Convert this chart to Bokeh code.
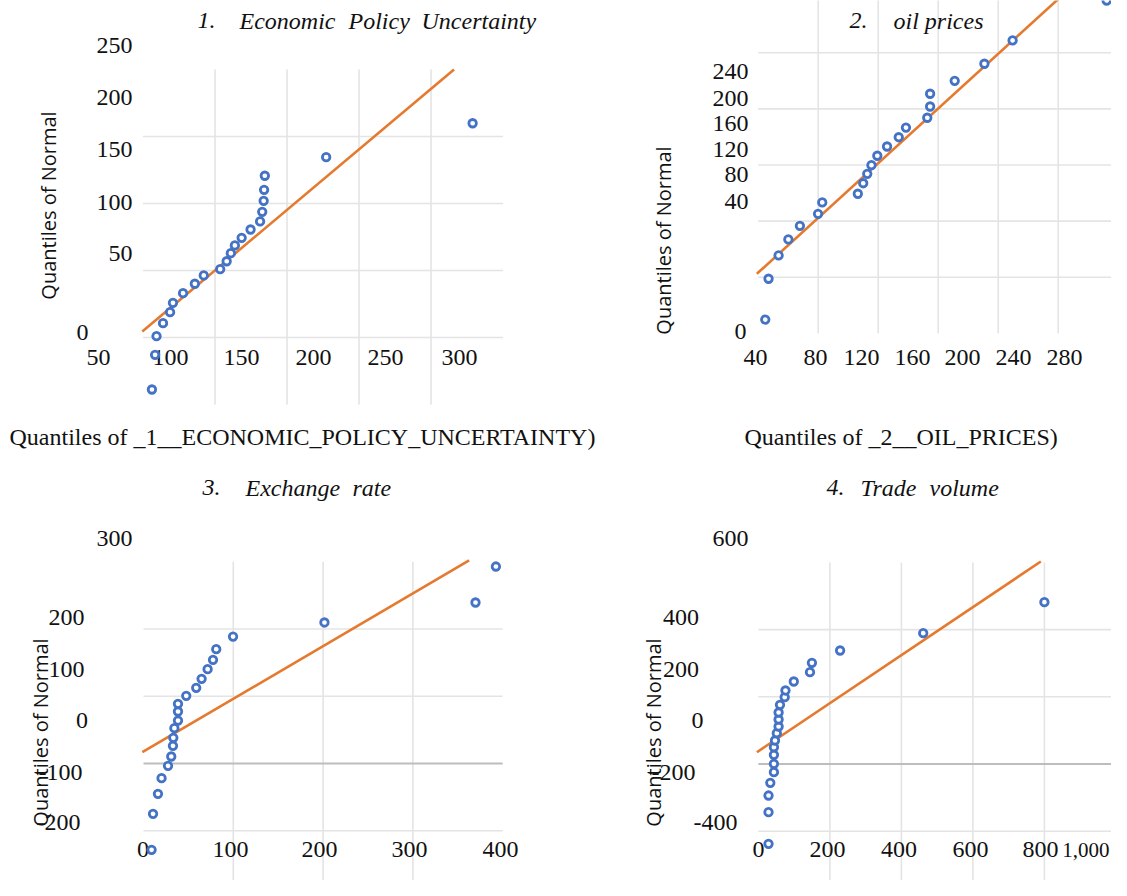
import numpy as np
from bokeh.plotting import figure
from bokeh.models import Range1d, ColumnDataSource
from bokeh.core.properties import value
from bokeh.embed import file_html
from bokeh.resources import INLINE

# ---------------- data ----------------
# 1. Economic Policy Uncertainty
EPU_X = [56.2, 58.4, 59.4, 63.9, 68.8, 70.8, 77.8, 86.0, 92.2, 103.6, 108.1, 111.0,
         113.8, 118.5, 124.7, 131.3, 132.8, 133.8, 134.1, 134.6, 177.2, 278.9]
EPU_Y = [11.2, 37.1, 51.0, 60.7, 68.9, 75.9, 83.1, 90.1, 96.3, 101.0, 106.9, 112.9,
         118.7, 124.4, 130.6, 136.6, 143.8, 152.0, 160.2, 170.7, 184.6, 209.9]
EPU_LINE_X = [49.5, 266.0]
EPU_LINE_Y = [54.5, 250.0]
EPU_XTICKS = ["50", "100", "150", "200", "250", "300"]
EPU_YTICKS = ["250", "200", "150", "100", "50", "0"]

# 2. oil prices
OIL_X = [44.7, 46.9, 53.6, 60.1, 67.8, 79.9, 82.7, 106.4, 110.0, 112.7, 115.5, 119.4,
         125.9, 133.7, 138.5, 152.7, 154.6, 154.6, 171.0, 190.8, 209.6, 272.3]
OIL_Y = [9.8, 38.9, 55.5, 66.9, 76.6, 85.2, 93.3, 99.5, 107.0, 113.7, 119.9, 126.6,
         133.2, 139.8, 146.7, 153.7, 161.7, 170.8, 180.0, 192.2, 208.8, 237.3]
OIL_LINE_X = [39.1, 260.0]
OIL_LINE_Y = [42.4, 257.8]
OIL_XTICKS = ["40", "80", "120", "160", "200", "240", "280"]
OIL_YTICKS = ["240", "200", "160", "120", "80", "40", "0"]

# 3. Exchange rate
EXR_X = [9.0, 10.6, 16.1, 20.1, 27.3, 30.9, 32.8, 33.2, 34.4, 38.4, 38.4, 38.4,
         47.6, 58.7, 64.7, 71.4, 77.4, 81.0, 99.7, 201.5, 369.7, 392.4]
EXR_Y = [-128.4, -74.8, -45.1, -21.8, -3.5, 10.4, 26.3, 38.2, 52.5, 63.9, 77.3, 88.7,
         100.6, 112.5, 125.9, 140.2, 154.2, 170.0, 188.8, 209.7, 239.4, 292.9]
EXR_LINE_X = [-1.3, 362.6]
EXR_LINE_Y = [16.8, 301.9]
EXR_XTICKS = ["0", "100", "200", "300", "400"]
EXR_YTICKS = ["300", "200", "100", "0", "-100", "-200"]

# 4. Trade volume
TRD_X = [28.3, 28.3, 28.3, 33.3, 43.4, 43.4, 43.4, 43.4, 46.4, 51.5, 56.5, 56.5,
         56.5, 60.4, 73.6, 75.7, 99.0, 144.3, 149.7, 228.5, 461.0, 800.0]
TRD_Y = [-237.5, -143.5, -93.8, -56.0, -24.4, 0.6, 27.4, 50.0, 69.9, 91.7, 111.6, 132.4,
         153.3, 176.2, 198.8, 218.8, 245.5, 273.2, 301.2, 337.8, 389.3, 481.5]
TRD_LINE_X = [-4.2, 790.0]
TRD_LINE_Y = [35.1, 602.7]
TRD_XTICKS = ["0", "200", "400", "600", "800", "1,000"]
TRD_YTICKS = ["600", "400", "200", "0", "-200", "-400"]

# ---------------- layout (picture pixels) ----------------
W, H = 1111, 880
LEFT, TOP = 0, 0
PAGE_R, PAGE_B = LEFT + W, TOP + H

BLUE = "#4472C4"
ORANGE = "#E57A2E"
GRID = "#e4e4e4"
ZERO = "#bdbdbd"
SERIF = "Liberation Serif"
SANS = "Open Sans"

p = figure(width=W, height=H, x_range=Range1d(LEFT, PAGE_R), y_range=Range1d(PAGE_B, TOP),
           x_axis_type=None, y_axis_type=None, toolbar_location=None,
           output_backend="svg", min_border=0, outline_line_color=None)
p.background_fill_color = "white"
p.border_fill_color = "white"


def xrange_for(px0, v0, scale):
    return Range1d(start=v0 + (LEFT - px0) / scale, end=v0 + (PAGE_R - px0) / scale)


def yrange_for(py0, v0, scale):
    return Range1d(start=v0 + (py0 - PAGE_B) / scale, end=v0 + (py0 - TOP) / scale)


# plot-area placement of each panel: (pixel of origin value, origin value, px per unit)
p.extra_x_ranges = {
    "epu": xrange_for(142.5, 50, 1.44),
    "oil": xrange_for(757.7, 40, 1.5),
    "exr": xrange_for(143.0, 0, 0.898),
    "trd": xrange_for(757.9, 0, 0.3575),
}
p.extra_y_ranges = {
    "epu": yrange_for(404.0, 0, 1.34),
    "oil": yrange_for(332.8, 0, 1.4025),
    "exr": yrange_for(763.0, 0, 0.6725),
    "trd": yrange_for(763.5, 0, 0.336),
}

PANELS = {
    "epu": dict(xb=(50, 300), yb=(0, 250), xstep=50, ystep=50, zero=False),
    "oil": dict(xb=(40, 280), yb=(0, 240), xstep=40, ystep=40, zero=False),
    "exr": dict(xb=(0, 400), yb=(-200, 300), xstep=100, ystep=100, zero=True),
    "trd": dict(xb=(0, 1000), yb=(-400, 600), xstep=200, ystep=200, zero=True),
}

# gridlines (interior only)
for name, cfg in PANELS.items():
    x0, x1 = cfg["xb"]
    y0, y1 = cfg["yb"]
    xv = list(np.arange(x0 + cfg["xstep"], x1, cfg["xstep"]))
    yv = [v for v in np.arange(y0 + cfg["ystep"], y1, cfg["ystep"]) if not (cfg["zero"] and v == 0)]
    p.segment(x0=xv, y0=[y0] * len(xv), x1=xv, y1=[y1] * len(xv), line_color=GRID,
              line_width=1.6, x_range_name=name, y_range_name=name)
    p.segment(x0=[x0] * len(yv), y0=yv, x1=[x1] * len(yv), y1=yv, line_color=GRID,
              line_width=1.6, x_range_name=name, y_range_name=name)
    if cfg["zero"]:
        p.segment(x0=[x0], y0=[0], x1=[x1], y1=[0], line_color=ZERO, line_width=1.8,
                  x_range_name=name, y_range_name=name)


def text(xs, ys, labels, align="center", size="24px", font=SERIF, style="normal", angle=0.0):
    src = ColumnDataSource(dict(x=list(xs), y=list(ys), t=list(labels)))
    p.text(x="x", y="y", text="t", source=src, text_align=align, text_baseline="middle",
           text_font=value(font), text_font_size=value(size), text_font_style=style,
           text_color="#111111", angle=angle)


# tick labels (placed where the reference shows them)
TICK_LAYOUT = [
    (EPU_XTICKS, [98, 170, 241, 313, 385, 459], [357] * 6,
     EPU_YTICKS, [132, 132, 132, 132, 132, 88], [45, 97, 149, 202, 253, 332]),
    (OIL_XTICKS, [755, 815, 861, 912, 962, 1013, 1064], [357] * 7,
     OIL_YTICKS, [748] * 6 + [746], [71, 98, 123, 149, 174, 201, 331]),
    (EXR_XTICKS, [142.5, 230, 319, 409, 500], [849] * 5,
     EXR_YTICKS, [132, 84, 84, 87.5, 82, 80], [538, 617, 669, 720, 772, 822]),
    (TRD_XTICKS[:-1], [758, 827, 898.6, 970, 1040], [849] * 5,
     TRD_YTICKS, [748, 698.5, 698.5, 703, 695, 737], [538, 617, 669, 720, 772, 822]),
]
for xt, xpx, ypx, yt, ytx, yty in TICK_LAYOUT:
    text(xpx, ypx, xt, align="center")
    text(ytx, yty, yt, align="right")
# last trade-volume tick label kept inside the picture's right edge
text([W - 2], [849], TRD_XTICKS[-1:], align="right", size="21px")

# panel sub-titles
text([197, 239, 348, 421], [20] * 4, ["1.", "Economic", "Policy", "Uncertainty"], align="left", style="italic")
text([849, 893], [20] * 2, ["2.", "oil prices"], align="left", style="italic")
text([202, 245, 352], [487] * 3, ["3.", "Exchange", "rate"], align="left", style="italic")
text([826, 860, 929], [487] * 3, ["4.", "Trade", "volume"], align="left", style="italic")

# x-axis titles
text([9, 744], [436, 436], ["Quantiles of _1__ECONOMIC_POLICY_UNCERTAINTY)",
                             "Quantiles of _2__OIL_PRICES)"], align="left")

# reference lines and points
SERIES = [
    ("epu", EPU_LINE_X, EPU_LINE_Y, EPU_X, EPU_Y),
    ("oil", OIL_LINE_X, OIL_LINE_Y, OIL_X, OIL_Y),
    ("exr", EXR_LINE_X, EXR_LINE_Y, EXR_X, EXR_Y),
    ("trd", TRD_LINE_X, TRD_LINE_Y, TRD_X, TRD_Y),
]
for name, lx, ly, px, py in SERIES:
    p.line(lx, ly, line_color=ORANGE, line_width=2.6, x_range_name=name, y_range_name=name)
    p.scatter(px, py, marker="circle", size=7.5, line_width=2.8, line_color=BLUE,
              fill_color="white", x_range_name=name, y_range_name=name)

# y-axis titles (rotated)
text([48, 663, 40, 653], [205, 240, 732, 732], ["Quantiles of Normal"] * 4,
     align="center", size="20px", font=SANS, angle=np.pi / 2)

open("out.html", "w").write(file_html(p, INLINE))
